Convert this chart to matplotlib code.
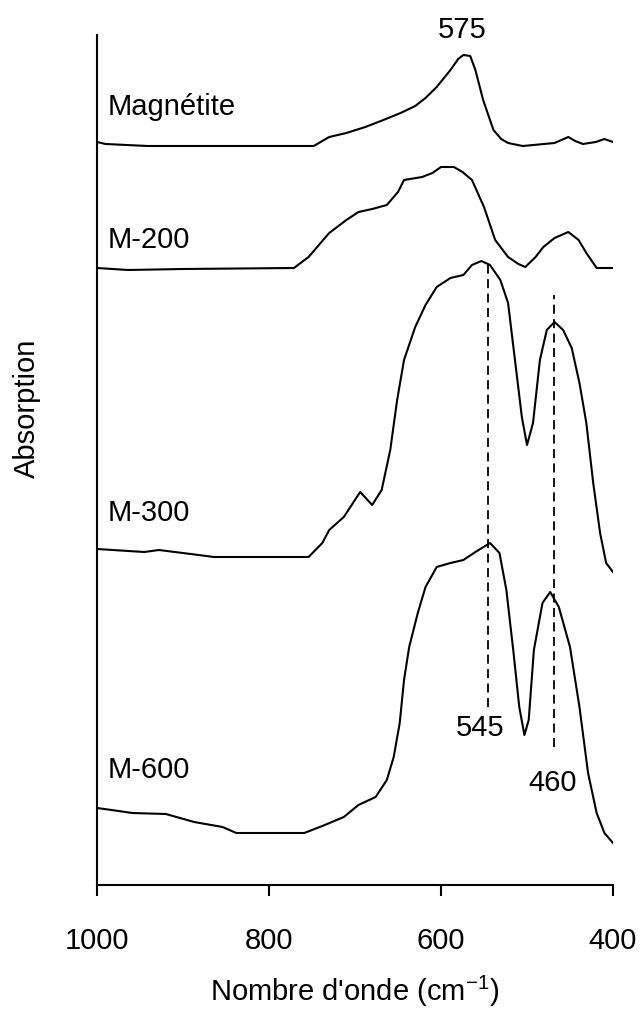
import matplotlib
matplotlib.use("Agg")
import matplotlib.pyplot as plt

plt.rcParams['font.family'] = ['Liberation Sans', 'DejaVu Sans']
plt.rcParams['mathtext.default'] = 'regular'

# IR spectra (wavenumber cm-1, absorption in arbitrary offset units)
wn_mag = [1000, 990, 941, 748, 738, 730, 710, 688, 667, 647, 630, 618, 605, 589, 580, 574, 566, 560, 551,
          539, 530, 522, 505, 468, 460, 452, 444, 435, 420, 410, 400]
ab_mag = [743, 741, 739, 739, 744, 748, 752, 758, 765, 772, 779, 787, 798, 815, 826, 830, 829, 815, 785,
          755, 746, 742, 739, 742, 745, 748, 744, 741, 743, 746, 743]

wn_200 = [1000, 964, 900, 771, 754, 730, 710, 696, 680, 663, 650, 643, 622, 610, 600, 585, 575, 564, 550, 537, 522,
          510, 502, 490, 481, 468, 452, 440, 431, 419, 400]
ab_200 = [617, 615, 616, 617, 628, 652, 665, 673, 676, 680, 693, 705, 708, 712, 718, 718, 713, 705, 678, 645, 628,
          621, 618, 628, 638, 647, 653, 645, 632, 617, 617]

wn_300 = [1000, 945, 928, 891, 864, 754, 738, 730, 713, 694, 680, 669, 659, 651, 643, 630, 618, 605, 589,
          574, 564, 553, 543, 531, 522, 514, 506, 500, 493, 485, 477, 468, 458, 448, 439, 431, 423, 415, 408, 400]
ab_300 = [336, 333, 335, 331, 328, 328, 342, 355, 368, 393, 380, 395, 435, 485, 525, 558, 580, 598, 607,
          610, 620, 624, 620, 605, 582, 525, 468, 440, 462, 525, 555, 563, 555, 537, 502, 462, 402, 352, 322, 313]

wn_600 = [1000, 983, 959, 920, 887, 854, 838, 825, 759, 738, 713, 696, 676, 663, 655, 648, 643, 637, 627, 618, 605,
          589, 574, 560, 543, 532, 524, 516, 509, 503, 498, 492, 482, 473, 463, 450, 439, 429, 419, 410, 400]
ab_600 = [77, 75, 72, 71, 63, 58, 52, 52, 52, 59, 68, 80, 88, 105, 128, 162, 205, 238, 272, 298, 318,
          322, 325, 333, 342, 332, 295, 235, 178, 150, 165, 235, 282, 293, 278, 238, 178, 112, 72, 52, 42]

names = ["Magnétite", "M-200", "M-300", "M-600"]
name_y = [778, 645, 372, 115]
xticks = [1000, 800, 600, 400]

fig = plt.figure(figsize=(6.4, 10.1), dpi=100)
ax = fig.add_axes([97 / 640, 125 / 1010, 516 / 640, 850 / 1010])

for wn, ab in [(wn_mag, ab_mag), (wn_200, ab_200), (wn_300, ab_300), (wn_600, ab_600)]:
    ax.plot(wn, ab, color='black', lw=1.5)

for name, y in zip(names, name_y):
    ax.text(988, y, name, fontsize=21, va='center', ha='left')

# peak markers
ax.vlines(545, 178, 623, colors='black', linestyles=(0, (5, 3)), lw=1.3)
ax.vlines(469, 138, 590, colors='black', linestyles=(0, (5, 3)), lw=1.3)
ax.text(575, 855, "575", fontsize=21, ha='center', va='center')
ax.text(554, 157, "545", fontsize=21, ha='center', va='center')
ax.text(470, 102, "460", fontsize=21, ha='center', va='center')

ax.set_xlim(1000, 400)
ax.set_ylim(0, 850)
ax.set_xticks(xticks)
ax.set_xticklabels([str(t) for t in xticks], fontsize=21)
ax.set_yticks([])
ax.spines['top'].set_visible(False)
ax.spines['right'].set_visible(False)
ax.spines['left'].set_linewidth(1.5)
ax.spines['bottom'].set_linewidth(1.5)
ax.tick_params(axis='x', direction='out', length=8, width=1.5, pad=22)
ax.set_xlabel("Nombre d'onde (cm$^{-1}$)", fontsize=21, labelpad=14)
fig.text(27 / 640, 1 - 408 / 1010, "Absorption", fontsize=21, rotation=90, ha='center', va='center')

fig.savefig("out.png", dpi=100)
